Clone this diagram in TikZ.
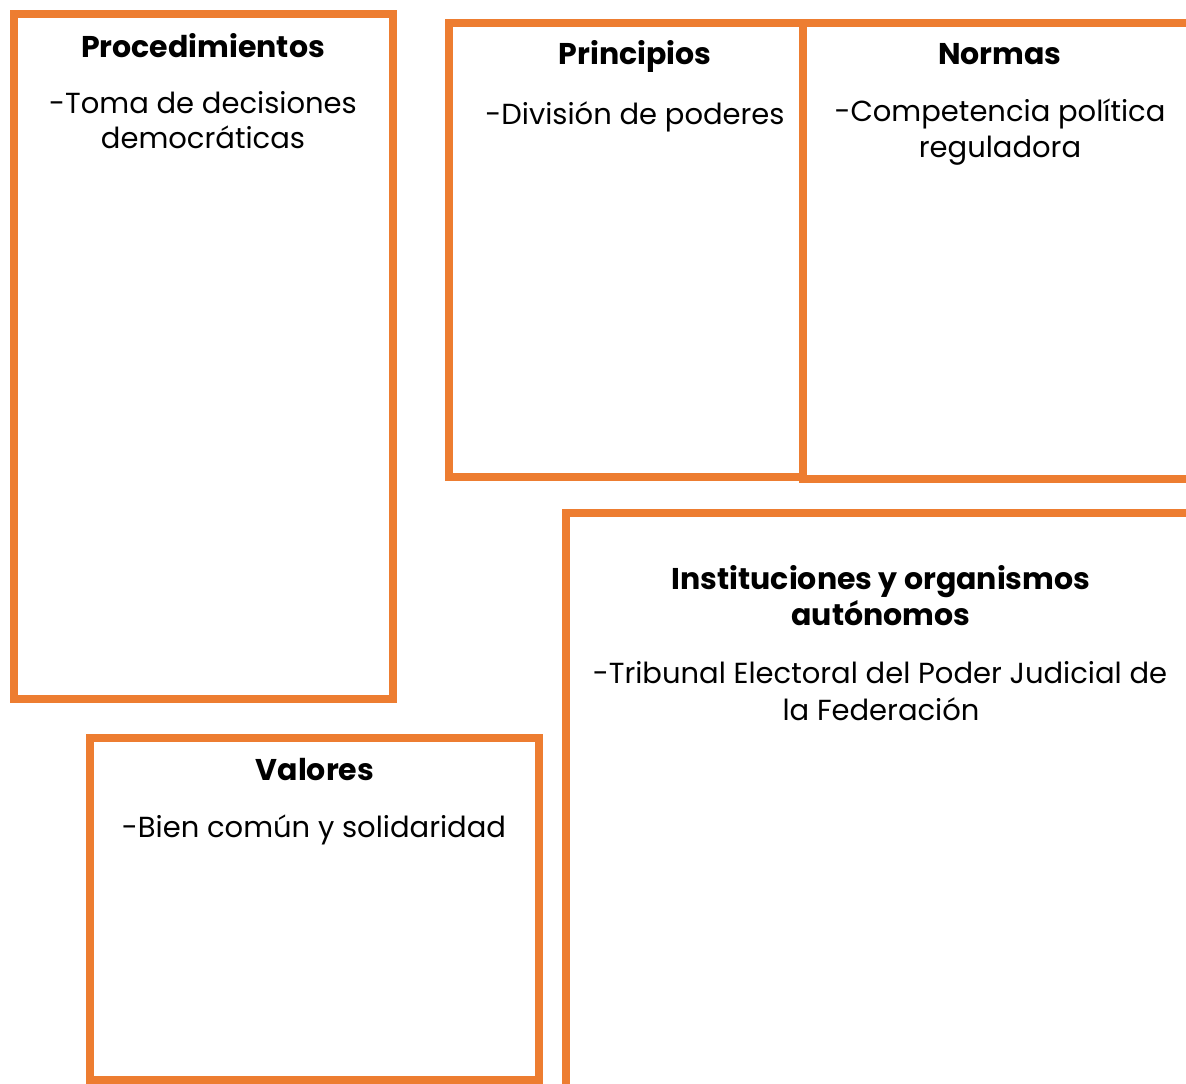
\documentclass[tikz,border=0pt]{standalone}
\usepackage{fontspec}
\setmainfont{Poppins}
\definecolor{boxorange}{HTML}{ED7D31}
\begin{document}
\begin{tikzpicture}[x=1pt,y=1pt,
  frame/.style={draw=boxorange,line width=8pt},
  ttl/.style={anchor=base,inner sep=0pt,font=\fontsize{30}{36}\selectfont\bfseries},
  txt/.style={anchor=base,inner sep=0pt,font=\fontsize{29}{35}\selectfont}]
\useasboundingbox (0,0) rectangle (1186,-1084);
\clip (0,0) rectangle (1186,-1084);
% boxes
\draw[frame] (14,-14) rectangle (393,-699);
\draw[frame] (449,-23) rectangle (803,-477);
\draw[frame] (803,-23) rectangle (1200,-479);
\draw[frame] (566,-513) rectangle (1200,-1100);
\draw[frame] (90,-738) rectangle (539,-1080);
% Procedimientos
\node[ttl] (t1) at (203,-57) {Procedimientos};
\node[txt] (b1a) at (203,-113) {-Toma de decisiones};
\node[txt] (b1b) at (203,-148) {democráticas};
% Principios
\node[ttl] (t2) at (635,-64) {Principios};
\node[txt] (b2a) at (635,-124) {-División de poderes};
% Normas
\node[ttl] (t3) at (1000,-64) {Normas};
\node[txt] (b3a) at (1000,-121) {-Competencia política};
\node[txt] (b3b) at (1000,-157) {reguladora};
% Instituciones
\node[ttl] (t4a) at (881,-589) {Instituciones y organismos};
\node[ttl] (t4b) at (881,-625) {autónomos};
\node[txt] (b4a) at (880,-683) {-Tribunal Electoral del Poder Judicial de};
\node[txt] (b4b) at (881,-720) {la Federación};
% Valores
\node[ttl] (t5) at (315,-780) {Valores};
\node[txt] (b5a) at (314,-837) {-Bien común y solidaridad};
\end{tikzpicture}
\end{document}
